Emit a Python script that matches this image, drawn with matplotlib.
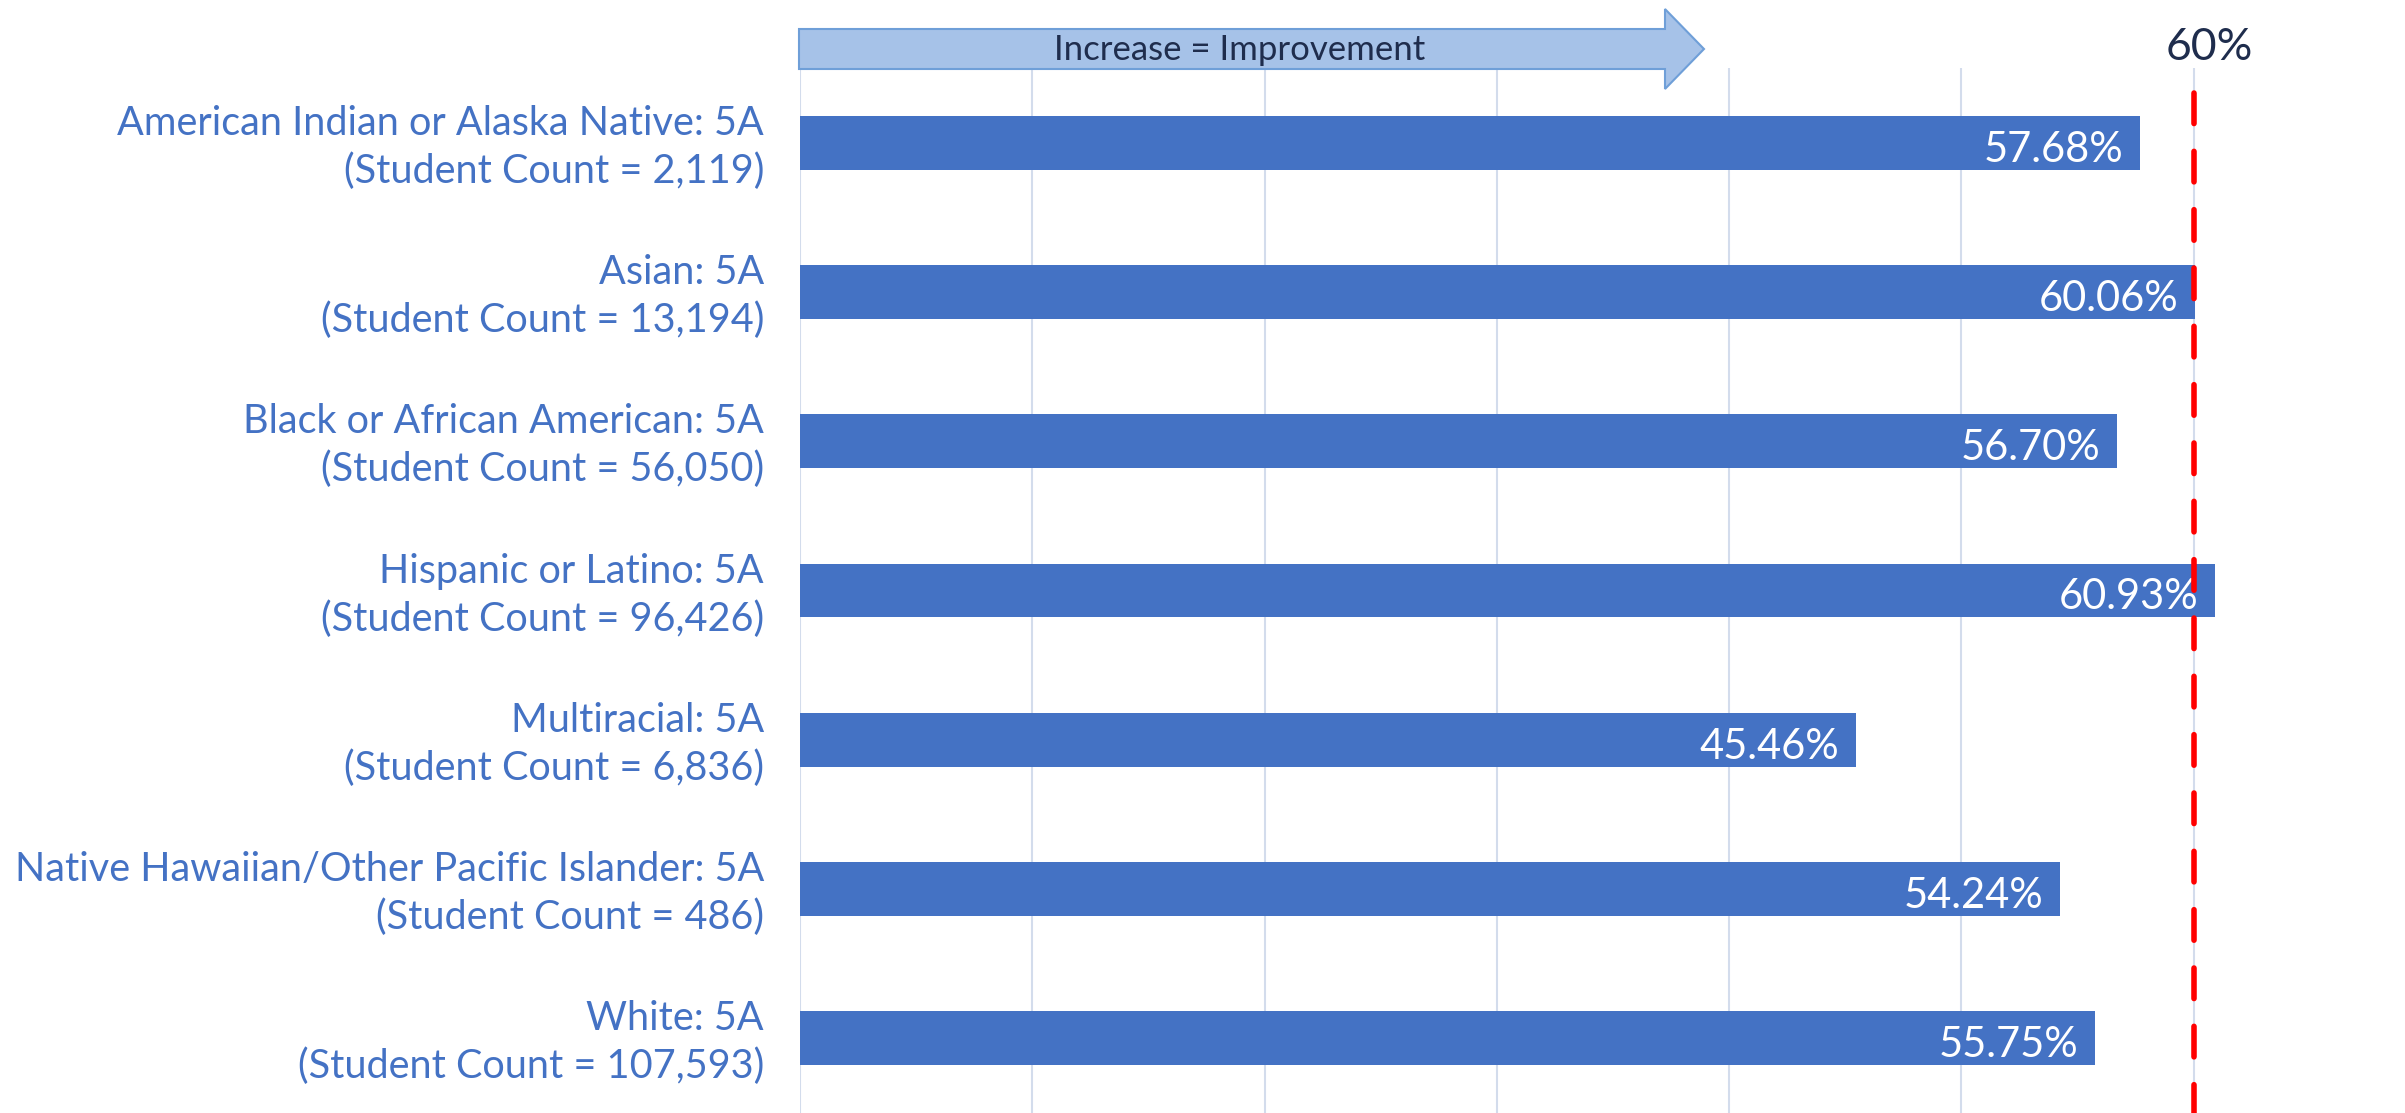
import matplotlib.pyplot as plt
from matplotlib.patches import Polygon
from matplotlib.transforms import ScaledTranslation

plt.rcParams['font.family'] = ['Lato', 'DejaVu Sans']

groups = ["American Indian or Alaska Native: 5A", "Asian: 5A", "Black or African American: 5A",
          "Hispanic or Latino: 5A", "Multiracial: 5A",
          "Native Hawaiian/Other Pacific Islander: 5A", "White: 5A"]
counts = ["2,119", "13,194", "56,050", "96,426", "6,836", "486", "107,593"]
values = [57.68, 60.06, 56.70, 60.93, 45.46, 54.24, 55.75]
target = 60

W, H = 2405, 1113
fig = plt.figure(figsize=(W / 100, H / 100), dpi=100)
# 0..70 spans 1626 px starting at x=800
ax = fig.add_axes([800 / W, 0, 1626 / W, 1045 / H])

pos = list(range(len(groups)))
ax.barh(pos, values, height=0.36, color="#4472C4", zorder=2)
ax.set_xlim(0, 70)
ax.set_ylim(6.5, -0.5)

for x in range(0, 70, 10):
    ax.axvline(x, color="#D3DCEC", lw=1.5, zorder=1)

ax.plot([target, target], [-0.33, 6.5], color="#FF0000", lw=4,
        linestyle=(0, (5.5, 5)), dash_capstyle='round', zorder=4)

for i, v in enumerate(values):
    ax.annotate(f"{v:.2f}%", (v, i), xytext=(-12, -5), textcoords="offset points",
                ha="right", va="center", color="white", fontsize=30, zorder=3)

labels = [f"{g}\n(Student Count = {c})" for g, c in zip(groups, counts)]
ax.set_yticks(pos)
ax.set_yticklabels(labels, fontsize=28.5, color="#4472C4", ha="right", linespacing=1.34)
ax.tick_params(axis="y", length=0, pad=26)
shift = ScaledTranslation(0, 3 / 72, fig.dpi_scale_trans)
for lbl in ax.get_yticklabels():
    lbl.set_transform(lbl.get_transform() + shift)
ax.set_xticks([])
for s in ax.spines.values():
    s.set_visible(False)

# arrow banner at the top
def fx(px):
    return px / W

def fy(py):
    return 1 - py / H

arrow = Polygon([(fx(799), fy(29)), (fx(1665), fy(29)), (fx(1665), fy(9)), (fx(1704), fy(49)),
                 (fx(1665), fy(89)), (fx(1665), fy(69)), (fx(799), fy(69))],
                closed=True, facecolor="#A6C2E8", edgecolor="#6F9FD8", lw=1.5,
                transform=fig.transFigure, zorder=5)
fig.patches.append(arrow)
fig.text(fx(1240), fy(50), "Increase = Improvement", ha="center", va="center",
         fontsize=25, color="#1F2D4D", zorder=6)
fig.text(fx(2209), fy(48), "60%", ha="center", va="center", fontsize=32, color="#1F2D4D")

fig.savefig("out.png", dpi=100)
